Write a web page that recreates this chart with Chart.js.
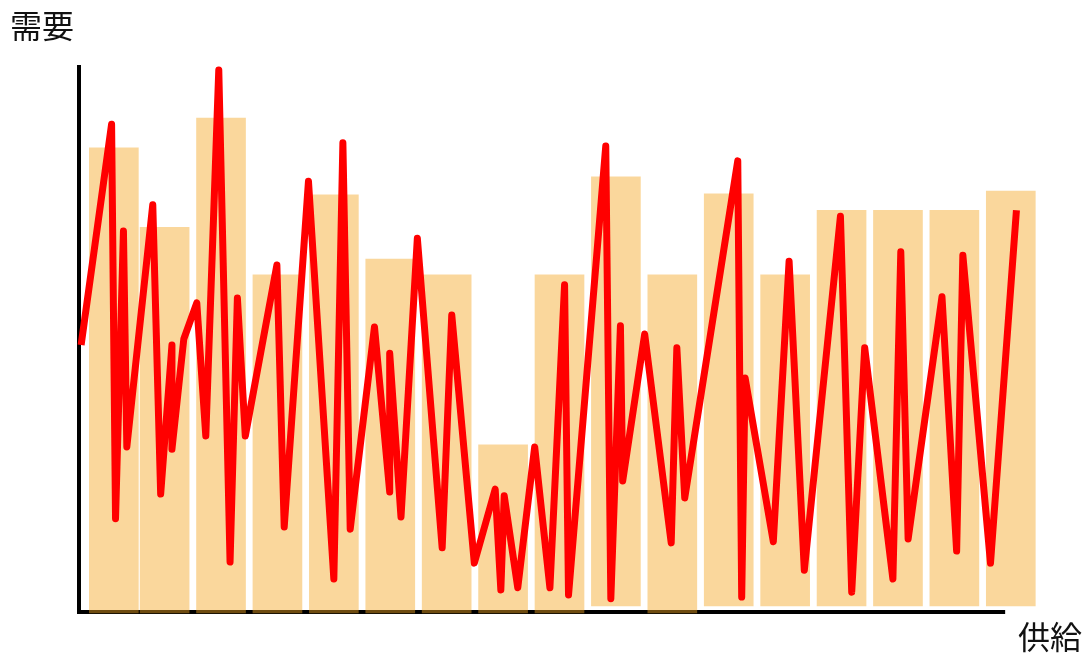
<!DOCTYPE html>
<html lang="ja">
<head>
<meta charset="UTF-8">
<title>需要と供給</title>
<script src="https://cdn.jsdelivr.net/npm/chart.js"></script>
<style>
  html, body { margin: 0; padding: 0; background: #fff; }
  canvas { display: block; }
</style>
</head>
<body>
<canvas id="myChart" width="1083" height="653"></canvas>
<script>
// bar positions on the supply axis, and their low / high demand values
const barX    = [0.6, 1.5, 2.5, 3.5, 4.5, 5.5, 6.5, 7.5, 8.5, 9.5, 10.5, 11.5, 12.5, 13.5, 14.5, 15.5, 16.5];
const barLow  = [0, 0, 0, 0, 0, 0, 0, 0, 0, 1.3, 0, 1.3, 1.3, 1.3, 1.3, 1.3, 1.3];
const barHigh = [84.9, 70.4, 90.3, 61.7, 76.3, 64.6, 61.7, 30.7, 61.7, 79.6, 61.7, 76.5, 61.7, 73.5, 73.5, 73.5, 77.0];

// red line: supply (x) and demand (y) of each vertex
const lineX = [0.02, 0.56, 0.63, 0.77, 0.83, 1.29, 1.43, 1.63, 1.63, 1.84, 2.07, 2.23, 2.46, 2.66, 2.79, 2.93,
               3.49, 3.62, 4.05, 4.50, 4.66, 4.79, 5.22, 5.49, 5.49, 5.69, 5.98, 6.42, 6.59, 6.99, 7.36, 7.46,
               7.52, 7.76, 8.06, 8.33, 8.59, 8.66, 9.32, 9.41, 9.58, 9.62, 10.01, 10.48, 10.58, 10.72, 11.66,
               11.73, 11.79, 12.29, 12.57, 12.84, 13.48, 13.68, 13.91, 14.41, 14.55, 14.68, 15.28, 15.54,
               15.65, 16.14, 16.60];
const lineY = [48.9, 89.2, 17.2, 69.7, 30.3, 74.5, 21.7, 48.9, 29.9, 50.0, 56.6, 32.3, 99.1, 9.3, 57.5, 32.3,
               63.5, 15.7, 78.8, 6.2, 85.8, 15.3, 52.2, 22.1, 47.4, 17.5, 68.4, 11.9, 54.4, 9.1, 22.6, 4.2,
               21.4, 4.6, 30.3, 4.6, 59.9, 3.3, 85.2, 2.6, 52.4, 24.1, 50.9, 12.8, 48.4, 21.0, 82.5,
               2.9, 42.9, 13.0, 64.2, 7.8, 72.4, 3.8, 48.4, 6.2, 65.9, 13.5, 57.7, 11.3,
               65.3, 9.1, 73.5];

const xTitle = '供給';
const yTitle = '需要';
const xAxisEnd = 16.4;

const barData = barX.map((x, i) => ({ x: x, y: [barLow[i], barHigh[i]] }));
const lineData = lineX.map((x, i) => ({ x: x, y: lineY[i] }));

// plain black axis lines and the two axis titles
const axesPlugin = {
    id: 'axes',
    beforeDatasetsDraw(chart) {
        const ctx = chart.ctx;
        const xs = chart.scales.x, ys = chart.scales.y;
        const x0 = xs.getPixelForValue(0);
        const y0 = ys.getPixelForValue(0);
        const yTop = chart.chartArea.top;
        ctx.save();
        ctx.fillStyle = '#000';
        ctx.fillRect(x0 - 3, yTop, 4, y0 - yTop + 1);
        ctx.fillRect(x0 - 3, y0 - 3, xs.getPixelForValue(xAxisEnd) - x0 + 3, 4);
        ctx.restore();
    },
    afterDraw(chart) {
        const ctx = chart.ctx;
        ctx.save();
        ctx.fillStyle = '#111';
        ctx.font = '32px "Noto Sans CJK JP"';
        ctx.textBaseline = 'alphabetic';
        ctx.textAlign = 'left';
        ctx.fillText(yTitle, 10, 38);
        ctx.fillText(xTitle, 1018, 649);
        ctx.restore();
    }
};

const ctx = document.getElementById('myChart').getContext('2d');
const myChart = new Chart(ctx, {
    type: 'bar',
    data: {
        datasets: [{
            type: 'line',
            data: lineData,
            borderColor: '#ff0000',
            borderWidth: 7,
            borderJoinStyle: 'round',
            borderCapStyle: 'butt',
            pointRadius: 0,
            tension: 0,
            fill: false,
            clip: false,
            order: 0
        }, {
            type: 'bar',
            data: barData,
            backgroundColor: 'rgba(245, 166, 35, 0.45)',
            borderWidth: 0,
            barThickness: 49,
            clip: false,
            order: 1
        }]
    },
    options: {
        responsive: false,
        devicePixelRatio: 1,
        animation: false,
        layout: { padding: { left: 80, right: 44, top: 65, bottom: 40 } },
        plugins: {
            legend: { display: false },
            tooltip: { enabled: false }
        },
        scales: {
            x: { type: 'linear', min: 0, max: 17, offset: false, display: false },
            y: { type: 'linear', min: 0, max: 100, display: false }
        }
    },
    plugins: [axesPlugin]
});
</script>
</body>
</html>
